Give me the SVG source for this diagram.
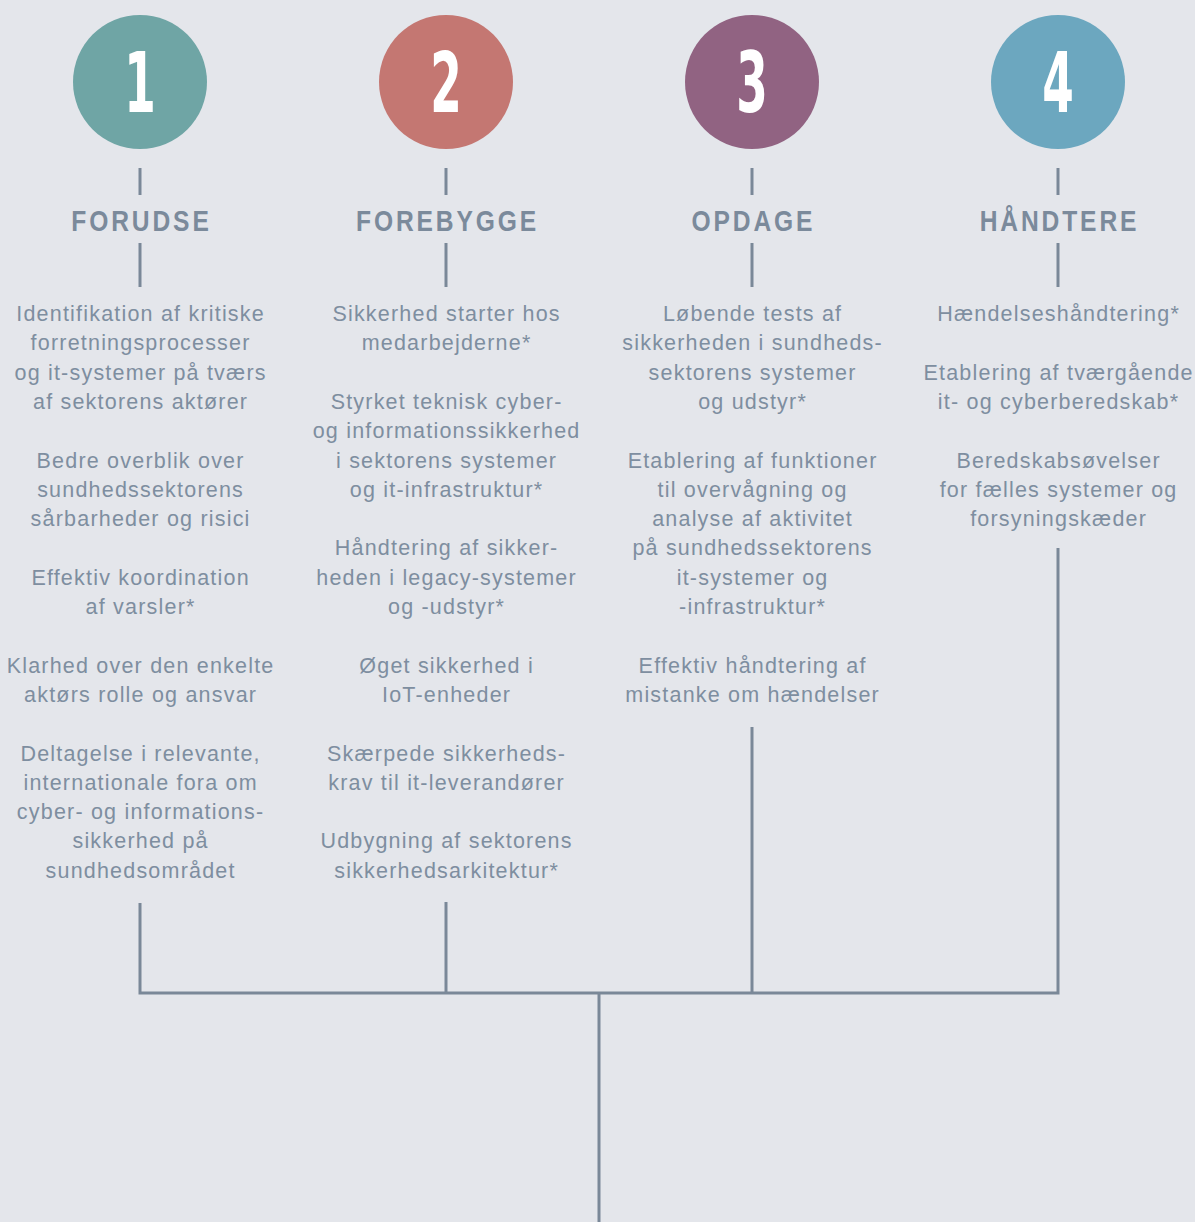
<svg xmlns="http://www.w3.org/2000/svg" width="1195" height="1222" viewBox="0 0 1195 1222">
<style>
.num{font-family:"DejaVu Sans Condensed","DejaVu Sans",sans-serif;font-weight:bold;font-size:84px;fill:#ffffff;text-anchor:middle}
.hd{font-family:"Liberation Sans",Arial,sans-serif;font-weight:bold;font-size:30px;letter-spacing:3.5px;fill:#7b8a9b;text-anchor:middle}
.tx{font-family:"Liberation Sans",Arial,sans-serif;font-size:21.5px;letter-spacing:1.2px;fill:#7e8ea0;text-anchor:middle}
.ln{stroke:#7a8898;stroke-width:3;fill:none}
</style>
<rect width="1195" height="1222" fill="#e4e6eb"/>
<g id="node1">
<circle cx="140" cy="82" r="67" fill="#6fa5a5"/>
<text class="num" transform="translate(140,112) scale(0.6,1)">1</text>
<text class="hd" transform="translate(141.5,231) scale(0.82,1)">FORUDSE</text>
<text class="tx" x="140.6" y="321">Identifikation af kritiske</text>
<text class="tx" x="140.6" y="350.3">forretningsprocesser</text>
<text class="tx" x="140.6" y="379.6">og it-systemer på tværs</text>
<text class="tx" x="140.6" y="408.9">af sektorens aktører</text>
<text class="tx" x="140.6" y="467.5">Bedre overblik over</text>
<text class="tx" x="140.6" y="496.8">sundhedssektorens</text>
<text class="tx" x="140.6" y="526.1">sårbarheder og risici</text>
<text class="tx" x="140.6" y="584.7">Effektiv koordination</text>
<text class="tx" x="140.6" y="614">af varsler*</text>
<text class="tx" x="140.6" y="672.6">Klarhed over den enkelte</text>
<text class="tx" x="140.6" y="701.9">aktørs rolle og ansvar</text>
<text class="tx" x="140.6" y="760.5">Deltagelse i relevante,</text>
<text class="tx" x="140.6" y="789.8">internationale fora om</text>
<text class="tx" x="140.6" y="819.1">cyber- og informations-</text>
<text class="tx" x="140.6" y="848.4">sikkerhed på</text>
<text class="tx" x="140.6" y="877.7">sundhedsområdet</text>
</g>
<g id="node2">
<circle cx="446" cy="82" r="67" fill="#c47772"/>
<text class="num" transform="translate(446,112) scale(0.6,1)">2</text>
<text class="hd" transform="translate(447.5,231) scale(0.82,1)">FOREBYGGE</text>
<text class="tx" x="446.6" y="321">Sikkerhed starter hos</text>
<text class="tx" x="446.6" y="350.3">medarbejderne*</text>
<text class="tx" x="446.6" y="408.9">Styrket teknisk cyber-</text>
<text class="tx" x="446.6" y="438.2">og informationssikkerhed</text>
<text class="tx" x="446.6" y="467.5">i sektorens systemer</text>
<text class="tx" x="446.6" y="496.8">og it-infrastruktur*</text>
<text class="tx" x="446.6" y="555.4">Håndtering af sikker-</text>
<text class="tx" x="446.6" y="584.7">heden i legacy-systemer</text>
<text class="tx" x="446.6" y="614">og -udstyr*</text>
<text class="tx" x="446.6" y="672.6">Øget sikkerhed i</text>
<text class="tx" x="446.6" y="701.9">IoT-enheder</text>
<text class="tx" x="446.6" y="760.5">Skærpede sikkerheds-</text>
<text class="tx" x="446.6" y="789.8">krav til it-leverandører</text>
<text class="tx" x="446.6" y="848.4">Udbygning af sektorens</text>
<text class="tx" x="446.6" y="877.7">sikkerhedsarkitektur*</text>
</g>
<g id="node3">
<circle cx="752" cy="82" r="67" fill="#916382"/>
<text class="num" transform="translate(752,112) scale(0.6,1)">3</text>
<text class="hd" transform="translate(753.5,231) scale(0.82,1)">OPDAGE</text>
<text class="tx" x="752.6" y="321">Løbende tests af</text>
<text class="tx" x="752.6" y="350.3">sikkerheden i sundheds-</text>
<text class="tx" x="752.6" y="379.6">sektorens systemer</text>
<text class="tx" x="752.6" y="408.9">og udstyr*</text>
<text class="tx" x="752.6" y="467.5">Etablering af funktioner</text>
<text class="tx" x="752.6" y="496.8">til overvågning og</text>
<text class="tx" x="752.6" y="526.1">analyse af aktivitet</text>
<text class="tx" x="752.6" y="555.4">på sundhedssektorens</text>
<text class="tx" x="752.6" y="584.7">it-systemer og</text>
<text class="tx" x="752.6" y="614">-infrastruktur*</text>
<text class="tx" x="752.6" y="672.6">Effektiv håndtering af</text>
<text class="tx" x="752.6" y="701.9">mistanke om hændelser</text>
</g>
<g id="node4">
<circle cx="1058" cy="82" r="67" fill="#6ca7bf"/>
<text class="num" transform="translate(1058,112) scale(0.6,1)">4</text>
<text class="hd" transform="translate(1059.5,231) scale(0.82,1)">HÅNDTERE</text>
<text class="tx" x="1058.6" y="321">Hændelseshåndtering*</text>
<text class="tx" x="1058.6" y="379.6">Etablering af tværgående</text>
<text class="tx" x="1058.6" y="408.9">it- og cyberberedskab*</text>
<text class="tx" x="1058.6" y="467.5">Beredskabsøvelser</text>
<text class="tx" x="1058.6" y="496.8">for fælles systemer og</text>
<text class="tx" x="1058.6" y="526.1">forsyningskæder</text>
</g>
<g id="connectors" class="ln">
<line x1="140" y1="168" x2="140" y2="195"/>
<line x1="140" y1="243" x2="140" y2="287"/>
<line x1="446" y1="168" x2="446" y2="195"/>
<line x1="446" y1="243" x2="446" y2="287"/>
<line x1="752" y1="168" x2="752" y2="195"/>
<line x1="752" y1="243" x2="752" y2="287"/>
<line x1="1058" y1="168" x2="1058" y2="195"/>
<line x1="1058" y1="243" x2="1058" y2="287"/>
<polyline points="140,903 140,993 1058,993 1058,548"/>
<line x1="446" y1="902" x2="446" y2="993"/>
<line x1="752" y1="727" x2="752" y2="993"/>
<line x1="599" y1="993" x2="599" y2="1222"/>
</g>
</svg>
